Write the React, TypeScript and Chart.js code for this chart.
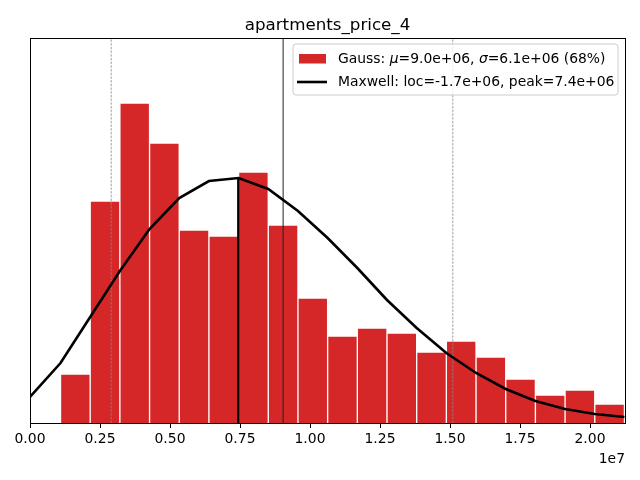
import React, { useEffect, useRef } from "react";
import { Chart, registerables } from "chart.js";

Chart.register(...registerables);

// ---- data ----
const title = "apartments_price_4";
// histogram bins (left edges) and width, in price units
const binLefts = [1.09e6, 2.15e6, 3.21e6, 4.27e6, 5.33e6, 6.39e6, 7.45e6, 8.51e6, 9.57e6, 10.63e6, 11.69e6, 12.75e6, 13.81e6, 14.87e6, 15.93e6, 16.99e6, 18.05e6, 19.11e6, 20.17e6];
const binWidth = 1.06e6;
const binHeights = [49, 222, 320, 280, 193, 187, 251, 198, 125, 87, 95, 90, 71, 82, 66, 44, 28, 33, 19];
// Maxwell fit curve
const curveX = [0, 1.09e6, 2.15e6, 3.21e6, 4.27e6, 5.33e6, 6.39e6, 7.45e6, 8.51e6, 9.57e6, 10.63e6, 11.69e6, 12.75e6, 13.81e6, 14.87e6, 15.93e6, 16.99e6, 18.05e6, 19.11e6, 20.17e6, 21.23e6];
const curveY = [26, 60, 106, 152, 194, 225, 242, 245, 234, 212, 185, 155, 123, 95, 70, 50, 34, 22, 14, 9, 6];
const meanValue = 9.04e6;
const sigmaLow = 2.9e6;
const sigmaHigh = 15.1e6;
const peakX = 7.44e6;
const peakY = 245;
const xMax = 21.25e6;
const yMax = 385;
const xTickValues = [0, 2.5e6, 5e6, 7.5e6, 10e6, 12.5e6, 15e6, 17.5e6, 20e6];
const xTickLabels = ["0.00", "0.25", "0.50", "0.75", "1.00", "1.25", "1.50", "1.75", "2.00"];
const offsetLabel = "1e7";
const legendGauss = ["Gauss: ", "μ", "=9.0e+06, ", "σ", "=6.1e+06 (68%)"];
const legendMaxwell = "Maxwell: loc=-1.7e+06, peak=7.4e+06";

const RED = "#d62728";
const FONT = "'DejaVu Sans', sans-serif";

const overlayPlugin = {
  id: "overlay",
  afterDatasetsDraw(chart: any) {
    const { ctx, chartArea: a } = chart;
    ctx.save();
    // frame
    ctx.strokeStyle = "#000";
    ctx.lineWidth = 1;
    ctx.strokeRect(Math.round(a.left) + 0.5, Math.round(a.top) + 0.5, Math.round(a.right - a.left), Math.round(a.bottom - a.top));
    // title
    ctx.fillStyle = "#000";
    ctx.font = `16.7px ${FONT}`;
    ctx.textAlign = "center";
    ctx.textBaseline = "alphabetic";
    ctx.fillText(title, (a.left + a.right) / 2, 30);
    // offset label
    ctx.font = `13.9px ${FONT}`;
    ctx.textAlign = "right";
    ctx.fillText(offsetLabel, a.right, 463);
    // legend
    const bx = a.right - 332, by = a.top + 6, bw = 325, bh = 51;
    ctx.beginPath();
    const r = 3;
    ctx.moveTo(bx + r, by);
    ctx.arcTo(bx + bw, by, bx + bw, by + bh, r);
    ctx.arcTo(bx + bw, by + bh, bx, by + bh, r);
    ctx.arcTo(bx, by + bh, bx, by, r);
    ctx.arcTo(bx, by, bx + bw, by, r);
    ctx.closePath();
    ctx.fillStyle = "rgba(255,255,255,0.8)";
    ctx.fill();
    ctx.strokeStyle = "#cccccc";
    ctx.lineWidth = 1;
    ctx.stroke();
    // patch
    ctx.fillStyle = RED;
    ctx.fillRect(bx + 6, by + 10, 27, 9.5);
    // line
    ctx.strokeStyle = "#000";
    ctx.lineWidth = 2.6;
    ctx.beginPath();
    ctx.moveTo(bx + 4, by + 38);
    ctx.lineTo(bx + 34, by + 38);
    ctx.stroke();
    // texts
    ctx.fillStyle = "#000";
    ctx.textAlign = "left";
    ctx.textBaseline = "middle";
    let tx = bx + 45;
    legendGauss.forEach((seg, i) => {
      ctx.font = (i === 1 || i === 3 ? "italic " : "") + `13.9px ${FONT}`;
      ctx.fillText(seg, tx, by + 15);
      tx += ctx.measureText(seg).width;
    });
    ctx.font = `13.9px ${FONT}`;
    ctx.fillText(legendMaxwell, bx + 45, by + 38);
    ctx.restore();
  },
};

export default function App() {
  const ref = useRef<HTMLCanvasElement>(null);
  useEffect(() => {
    document.body.style.margin = "0";
    const bars = binLefts.map((l, i) => ({ x: l + binWidth / 2, y: binHeights[i] }));
    const curve = curveX.map((x, i) => ({ x, y: curveY[i] }));
    const vline = (x: number, y1: number) => [{ x, y: 0 }, { x, y: y1 }];
    const chart = new Chart(ref.current!, {
      type: "bar",
      data: {
        datasets: [
          {
            type: "line",
            data: vline(sigmaLow, yMax),
            borderColor: "#888888",
            borderWidth: 0.8,
            borderDash: [2.5, 1.2],
            pointRadius: 0,
            order: 0,
          } as any,
          {
            type: "line",
            data: vline(sigmaHigh, yMax),
            borderColor: "#888888",
            borderWidth: 0.8,
            borderDash: [2.5, 1.2],
            pointRadius: 0,
            order: 0,
          } as any,
          {
            type: "line",
            data: vline(meanValue, yMax),
            borderColor: "#222222",
            borderWidth: 1,
            pointRadius: 0,
            order: 0,
          } as any,
          {
            type: "line",
            data: curve,
            borderColor: "#000",
            borderWidth: 2.6,
            pointRadius: 0,
            tension: 0,
            order: -1,
          } as any,
          {
            type: "line",
            data: vline(peakX, peakY),
            borderColor: "#000",
            borderWidth: 2.4,
            pointRadius: 0,
            order: -1,
          } as any,
          {
            type: "bar",
            data: bars,
            backgroundColor: RED,
            borderColor: "rgba(255,255,255,0.85)",
            borderWidth: 1,
            barPercentage: 1,
            categoryPercentage: 1,
            order: 1,
          } as any,
        ],
      },
      options: {
        animation: false,
        responsive: false,
        maintainAspectRatio: false,
        layout: { padding: { left: 30, right: 15, top: 38, bottom: 0 } },
        plugins: { legend: { display: false }, tooltip: { enabled: false }, title: { display: false } },
        scales: {
          x: {
            type: "linear",
            min: 0,
            max: xMax,
            offset: false,
            afterBuildTicks: (s: any) => {
              s.ticks = xTickValues.map((v) => ({ value: v }));
            },
            afterFit: (s: any) => {
              s.height = 57;
            },
            grid: { offset: false, drawOnChartArea: false, drawTicks: true, tickLength: 5, color: "#000", lineWidth: 1 },
            border: { display: false },
            ticks: {
              color: "#000",
              padding: 3,
              maxRotation: 0,
              autoSkip: false,
              font: { family: FONT, size: 13.9 },
              callback: (v: any) => {
                const i = xTickValues.indexOf(Number(v));
                return i >= 0 ? xTickLabels[i] : "";
              },
            },
          },
          y: {
            display: false,
            min: 0,
            max: yMax,
          },
        },
      },
      plugins: [overlayPlugin],
    });
    return () => chart.destroy();
  }, []);
  return (
    <div style={{ position: "absolute", left: 0, top: 0, width: 640, height: 480 }}>
      <canvas ref={ref} width={640} height={480} />
    </div>
  );
}
